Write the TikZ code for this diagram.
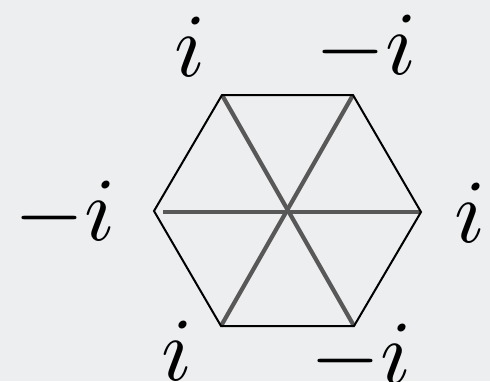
\documentclass[tikz,border=0pt]{standalone}
\newcommand{\biglab}[1]{\scalebox{9}{$#1$}}
\begin{document}
\begin{tikzpicture}[x=1pt,y=-1pt,
  hexedge/.style={draw=black,line width=2pt,line join=miter},
  diag/.style={draw=diaggray,line width=4.2pt},
  lab/.style={inner sep=0pt}]
\definecolor{bggray}{RGB}{237,238,240}
\definecolor{diaggray}{RGB}{88,88,88}
\fill[bggray] (0,0) rectangle (490,381);
\useasboundingbox (0,0) rectangle (490,381);
% hexagon vertices
\coordinate (tl) at (222,95);
\coordinate (tr) at (353,95);
\coordinate (r)  at (421,212);
\coordinate (br) at (354,326);
\coordinate (bl) at (221,326);
\coordinate (l)  at (154,211);
\coordinate (lin) at (163,212);
% diagonals
\draw[diag] (lin) -- (r);
\draw[diag] (tl) -- (br);
\draw[diag] (tr) -- (bl);
% hexagon
\draw[hexedge] (tl) -- (tr) -- (r) -- (br) -- (bl) -- (l) -- cycle;
% labels
\node[lab,anchor=base] (ltl) at (190,76) {\biglab{i}};
\node[lab,anchor=base west] (ltr) at (315,74) {\biglab{-i}};
\node[lab,anchor=base west] (ll) at (14,240) {\biglab{-i}};
\node[lab,anchor=base] (lr) at (470,242) {\biglab{i}};
\node[lab,anchor=base] (lbl) at (177,380) {\biglab{i}};
\node[lab,anchor=base west] (lbr) at (310,383) {\biglab{-i}};
\end{tikzpicture}
\end{document}
